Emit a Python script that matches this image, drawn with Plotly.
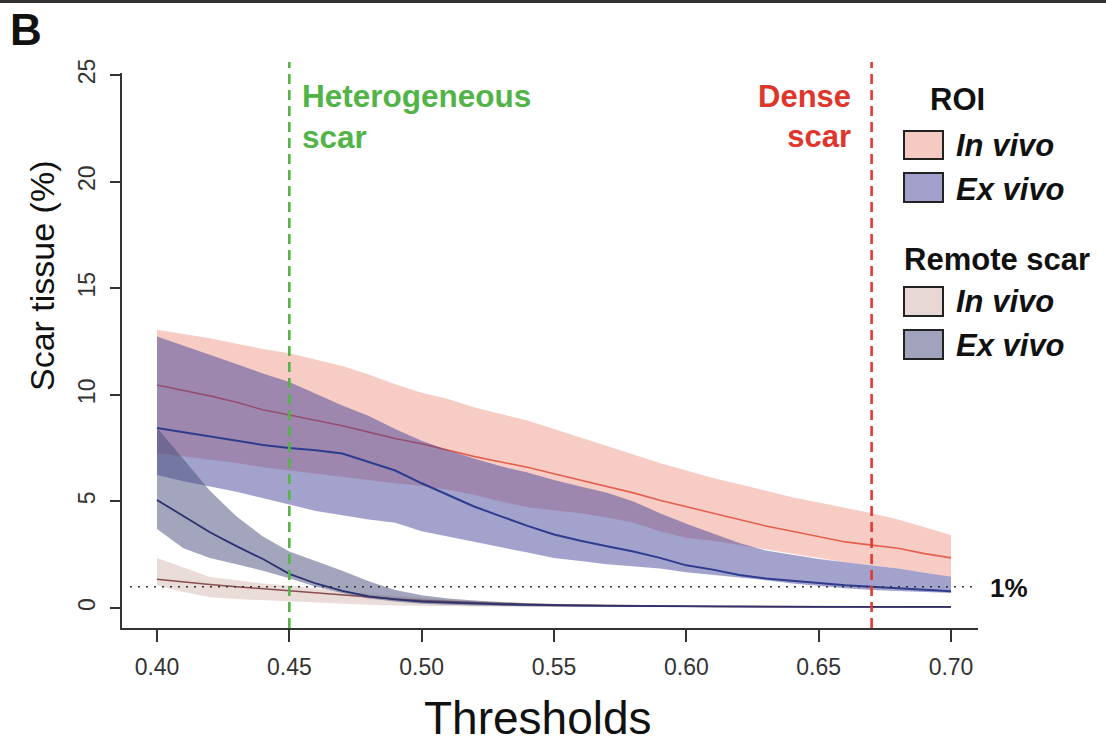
import plotly.graph_objects as go

# ---------------- data ----------------
thresholds = [0.40, 0.41, 0.42, 0.43, 0.44, 0.45, 0.46, 0.47, 0.48, 0.49, 0.50,
              0.51, 0.52, 0.53, 0.54, 0.55, 0.56, 0.57, 0.58, 0.59, 0.60,
              0.61, 0.62, 0.63, 0.64, 0.65, 0.66, 0.67, 0.68, 0.69, 0.70]

roi_invivo_upper = [13.05, 12.85, 12.65, 12.4, 12.15, 11.95, 11.65, 11.35, 10.95, 10.5, 10.1,
                    9.8, 9.4, 9.1, 8.8, 8.4, 8.0, 7.6, 7.2, 6.8, 6.45,
                    6.1, 5.8, 5.5, 5.2, 4.95, 4.7, 4.45, 4.15, 3.8, 3.42]
roi_invivo_mean = [10.46, 10.2, 9.95, 9.65, 9.3, 9.05, 8.8, 8.55, 8.25, 7.95, 7.7,
                   7.4, 7.1, 6.85, 6.6, 6.3, 6.0, 5.7, 5.4, 5.05, 4.75,
                   4.45, 4.15, 3.85, 3.6, 3.35, 3.1, 2.95, 2.8, 2.55, 2.35]
roi_invivo_lower = [7.27, 7.1, 6.95, 6.8, 6.6, 6.45, 6.3, 6.15, 6.0, 5.85, 5.72,
                    5.55, 5.3, 5.0, 4.72, 4.58, 4.45, 4.25, 4.0, 3.6, 3.3,
                    3.15, 2.92, 2.75, 2.55, 2.35, 2.15, 2.0, 1.85, 1.65, 1.45]

roi_exvivo_upper = [12.73, 12.3, 11.9, 11.45, 11.0, 10.6, 10.05, 9.5, 9.0, 8.4, 7.85,
                    7.4, 7.0, 6.65, 6.35, 6.0, 5.7, 5.4, 5.0, 4.45, 3.95,
                    3.5, 3.05, 2.7, 2.5, 2.3, 2.15, 2.0, 1.85, 1.65, 1.47]
roi_exvivo_mean = [8.44, 8.25, 8.05, 7.85, 7.65, 7.5, 7.4, 7.25, 6.85, 6.45, 5.85,
                   5.3, 4.75, 4.3, 3.85, 3.45, 3.15, 2.9, 2.65, 2.35, 2.0,
                   1.8, 1.55, 1.38, 1.27, 1.15, 1.07, 1.0, 0.93, 0.85, 0.78]
roi_exvivo_lower = [6.24, 5.95, 5.7, 5.45, 5.15, 4.85, 4.55, 4.35, 4.15, 4.0, 3.6,
                    3.35, 3.1, 2.85, 2.6, 2.35, 2.2, 2.05, 1.95, 1.85, 1.68,
                    1.55, 1.42, 1.3, 1.15, 1.03, 0.93, 0.85, 0.79, 0.74, 0.7]

remote_invivo_upper = [2.35, 1.9, 1.45, 1.3, 1.15, 1.05, 0.9, 0.78, 0.65, 0.55, 0.45,
                       0.38, 0.3, 0.26, 0.22, 0.2, 0.18, 0.16, 0.14, 0.13, 0.12,
                       0.11, 0.1, 0.1, 0.09, 0.09, 0.09, 0.08, 0.08, 0.08, 0.08]
remote_invivo_mean = [1.35, 1.22, 1.1, 1.0, 0.9, 0.8, 0.7, 0.6, 0.5, 0.42, 0.35,
                      0.3, 0.25, 0.2, 0.17, 0.15, 0.13, 0.11, 0.1, 0.09, 0.08,
                      0.07, 0.07, 0.06, 0.06, 0.06, 0.05, 0.05, 0.05, 0.05, 0.05]
remote_invivo_lower = [1.05, 0.75, 0.5, 0.42, 0.35, 0.3, 0.25, 0.2, 0.15, 0.12, 0.1,
                       0.08, 0.07, 0.06, 0.05, 0.05, 0.04, 0.04, 0.03, 0.03, 0.03,
                       0.03, 0.02, 0.02, 0.02, 0.02, 0.02, 0.02, 0.02, 0.02, 0.02]

remote_exvivo_upper = [8.45, 7.0, 5.5, 4.3, 3.35, 2.65, 2.2, 1.75, 1.25, 0.85, 0.6,
                       0.45, 0.35, 0.28, 0.22, 0.18, 0.15, 0.13, 0.12, 0.11, 0.1,
                       0.1, 0.09, 0.09, 0.08, 0.08, 0.08, 0.07, 0.07, 0.07, 0.07]
remote_exvivo_mean = [5.07, 4.3, 3.55, 2.9, 2.3, 1.6, 1.15, 0.8, 0.55, 0.4, 0.3,
                      0.25, 0.2, 0.17, 0.15, 0.12, 0.11, 0.1, 0.09, 0.08, 0.07,
                      0.07, 0.06, 0.06, 0.06, 0.05, 0.05, 0.05, 0.05, 0.05, 0.05]
remote_exvivo_lower = [3.7, 2.8, 2.35, 2.05, 1.75, 1.4, 1.0, 0.7, 0.45, 0.3, 0.2,
                       0.15, 0.12, 0.1, 0.08, 0.07, 0.06, 0.05, 0.05, 0.04, 0.04,
                       0.04, 0.03, 0.03, 0.03, 0.03, 0.03, 0.03, 0.03, 0.03, 0.03]

x_ticks = [0.40, 0.45, 0.50, 0.55, 0.60, 0.65, 0.70]
x_ticklabels = ["0.40", "0.45", "0.50", "0.55", "0.60", "0.65", "0.70"]
y_ticks = [0, 5, 10, 15, 20, 25]
y_ticklabels = ["0", "5", "10", "15", "20", "25"]

heterogeneous_threshold = 0.45
dense_threshold = 0.67
reference_level = 1.0

# ---------------- styling ----------------
FONT = "Liberation Sans, Arial, Helvetica, sans-serif"
W, H = 1106, 749
L, R, T, B = 122, 978, 73, 628


def pxx(p):
    return (p - L) / (R - L)


def pxy(p):
    return (B - p) / (B - T)


bands = [
    # (upper, mean, lower, fill, line colour, line width)
    (roi_invivo_upper, roi_invivo_mean, roi_invivo_lower, "rgba(228,105,85,0.34)", "#E4604E", 1.6),
    (roi_exvivo_upper, roi_exvivo_mean, roi_exvivo_lower, "rgba(60,60,150,0.48)", "#2E3C8E", 2.0),
    (remote_invivo_upper, remote_invivo_mean, remote_invivo_lower, "rgba(180,130,120,0.28)", "#8A4C50", 1.6),
    (remote_exvivo_upper, remote_exvivo_mean, remote_exvivo_lower, "rgba(70,75,120,0.50)", "#2C3170", 1.8),
]

fig = go.Figure()
for up, mean, low, fillc, linec, lw in bands:
    fig.add_trace(go.Scatter(
        x=thresholds + thresholds[::-1], y=up + low[::-1],
        fill="toself", fillcolor=fillc, line=dict(width=0), mode="lines",
        hoverinfo="skip", showlegend=False))
    fig.add_trace(go.Scatter(
        x=thresholds, y=mean, mode="lines",
        line=dict(color=linec, width=lw), showlegend=False))

shapes = []
shapes.append(dict(type="line", xref="x", yref="y", x0=0.3898, x1=0.709,
                   y0=reference_level, y1=reference_level,
                   line=dict(color="#333333", width=1.6, dash="2px,6px"), layer="above"))
shapes.append(dict(type="line", xref="x", yref="paper", x0=heterogeneous_threshold, x1=heterogeneous_threshold,
                   y0=0, y1=pxy(62), line=dict(color="#55B447", width=2.6, dash="10px,6px"), layer="above"))
shapes.append(dict(type="line", xref="x", yref="paper", x0=dense_threshold, x1=dense_threshold,
                   y0=0, y1=pxy(62), line=dict(color="#E5382E", width=2.6, dash="10px,6px"), layer="above"))
# panel border at the very top
shapes.append(dict(type="line", xref="paper", yref="paper", x0=pxx(0), x1=pxx(W),
                   y0=pxy(1.5), y1=pxy(1.5), line=dict(color="#333333", width=3)))

legend_boxes = [
    (131, 159, "#F4CAC2"),
    (173, 202, "#A1A0CA"),
    (287, 316, "#E8D8D5"),
    (330, 359, "#A0A3BB"),
]
for y0, y1, col in legend_boxes:
    shapes.append(dict(type="rect", xref="paper", yref="paper",
                       x0=pxx(904), x1=pxx(943), y0=pxy(y1), y1=pxy(y0),
                       fillcolor=col, line=dict(color="#222222", width=2)))

annotations = []


def ann(text, x, y, size, color="#111111", xanchor="left", yanchor="middle", align="left", angle=0):
    annotations.append(dict(text=text, x=pxx(x), y=pxy(y), xref="paper", yref="paper",
                            xanchor=xanchor, yanchor=yanchor, align=align, textangle=angle,
                            showarrow=False, font=dict(family=FONT, size=size, color=color)))


ann("<b>B</b>", 8, 30, 44, "#111111")
ann("<b>Heterogeneous<br>scar</b>", 300, 116, 31.5, "#52B447")
ann("<b>Dense<br>scar</b>", 853, 116, 31, "#E0352B", xanchor="right", align="right")
ann("<b>1%</b>", 988, 588, 26, "#111111")
ann("Thresholds", 538, 718, 46, "#111111", xanchor="center")
ann("Scar tissue (%)", 42, 276, 34, "#111111", xanchor="center", angle=-90)

ann("<b>ROI</b>", 957, 100, 31, "#111111", xanchor="center")
ann("<b><i>In vivo</i></b>", 954, 145, 31)
ann("<b><i>Ex vivo</i></b>", 954, 189, 31)
ann("<b>Remote scar</b>", 902, 259, 31)
ann("<b><i>In vivo</i></b>", 954, 301, 31)
ann("<b><i>Ex vivo</i></b>", 954, 345, 31)

x0_range = 0.40 - (157 - 122) / 2646.7
x1_range = 0.40 + (978 - 157) / 2646.7
y0_range = (608 - 628) / 21.32
y1_range = (608 - 73) / 21.32

fig.update_layout(
    width=W, height=H,
    margin=dict(l=L, r=W - R, t=T, b=H - B),
    paper_bgcolor="white", plot_bgcolor="white",
    font=dict(family=FONT, color="#222222"),
    showlegend=False,
    shapes=shapes, annotations=annotations,
    xaxis=dict(range=[x0_range, x1_range], tickvals=x_ticks, ticktext=x_ticklabels,
               showgrid=False, zeroline=False, showline=True, linecolor="#333333", linewidth=1.6,
               ticks="outside", ticklen=12, tickwidth=1.5, tickcolor="#333333",
               tickfont=dict(family=FONT, size=23, color="#333333"), ticklabelstandoff=6),
    yaxis=dict(range=[y0_range, y1_range], tickvals=y_ticks, ticktext=y_ticklabels,
               showgrid=False, zeroline=False, showline=True, linecolor="#333333", linewidth=1.6,
               ticks="outside", ticklen=10, tickwidth=1.5, tickcolor="#333333", tickangle=-90,
               tickfont=dict(family=FONT, size=23, color="#333333"), ticklabelstandoff=6),
)

# remove the browser's default page margin so the figure sits at the window's corner
fig.write_html("out.html",
               config={"displayModeBar": False},
               post_script="document.body.style.margin='0';document.body.style.padding='0';")
